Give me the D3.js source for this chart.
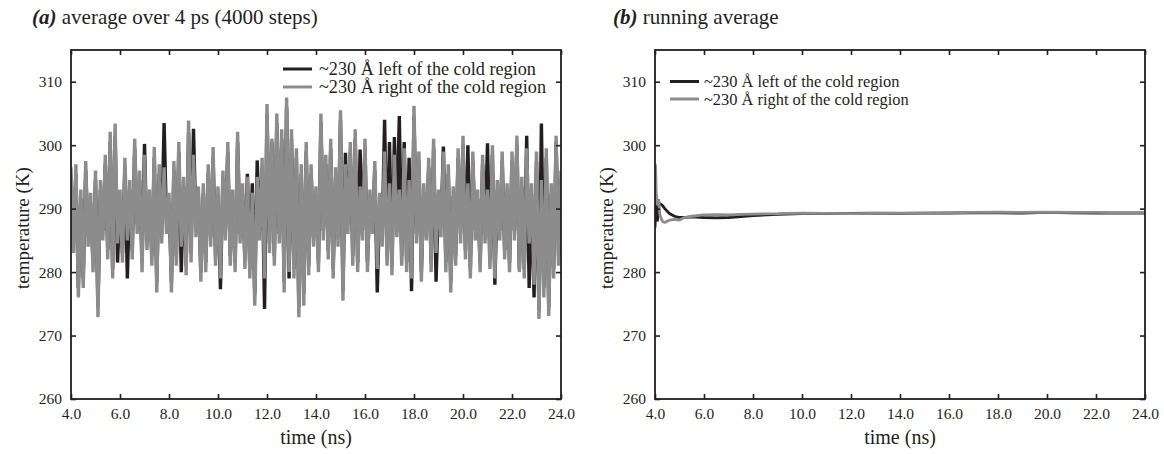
<!DOCTYPE html>
<html>
<head>
<meta charset="utf-8">
<script src="https://cdn.jsdelivr.net/npm/d3@7/dist/d3.min.js"></script>
<style>
    body { margin: 0; background: #fff; }
    svg text { font-family: "Liberation Serif", "Tinos", "Times New Roman", "DejaVu Serif", "Noto Serif", serif; fill: #231f20; }
</style>
</head>
<body>
<svg id="chart" width="1164" height="454"></svg>
<script>
// (a) 4 ps block averages, one sample every 0.1 ns from 4.0 ns
const blockStart = 4.0;
const blockStep = 0.1;
const blockLeft = [
    295, 284.5, 295.5, 277.5, 291.5, 279, 296, 285.5, 291, 281.5, 294.5, 274.5, 293, 286.5, 297, 283.5, 300.5, 280.5, 301.5, 281.5,
    291.5, 283, 296.5, 279, 293, 283.5, 299.5, 287.5, 294.5, 281.5, 300.2, 285, 291.5, 282.5, 298, 278.5, 295.5, 286, 303.5, 287.5,
    291, 278.5, 296, 282.5, 299, 280, 293.5, 281, 302, 283, 302.6, 287, 292, 280, 292.5, 281.5, 295.5, 285.5, 298, 282.5,
    292, 277.3, 294.5, 286.5, 299, 282.5, 291.5, 281.5, 300.5, 286, 292.5, 282, 295.5, 280.5, 294, 276.5, 297.6, 286.5, 296.5, 274.2,
    305, 284.5, 300.5, 282.5, 303.5, 286, 301, 278.5, 306, 279, 301, 280.5, 298, 274.5, 295.5, 276.5, 299, 281, 295.5, 285.5,
    292, 281.5, 303.5, 286.5, 297, 283.5, 299.5, 280.5, 295, 285.5, 304, 277, 298.8, 287.5, 299, 282.5, 301, 281.5, 299.3, 286.5,
    299.5, 281.5, 291.5, 287.5, 296, 276.8, 291, 285.5, 304, 282.5, 300.5, 281, 301.3, 287, 304.6, 282.5, 300.5, 281.5, 298, 277,
    304.5, 286, 297.5, 280, 292.5, 286.5, 296.5, 281.5, 299.5, 278.5, 291.5, 287, 299.8, 281.5, 295.5, 278.5, 292, 282.5, 298, 286,
    300, 283.5, 300, 280.5, 297.5, 286.5, 291.5, 281.5, 297, 286, 300.3, 282, 298.5, 278, 293, 286.5, 297.5, 283.5, 292.5, 281.5,
    297.5, 286.5, 300, 280.5, 293.5, 280.5, 301.5, 277.5, 292.5, 276, 297.5, 274, 303.4, 277.5, 298, 274.5, 292.5, 280.5, 300.5, 282.5,
    294.5
];
const blockRight = [
    296.5, 283, 297, 276, 293, 277.5, 297.5, 284, 292.5, 280, 296, 272.9, 294.5, 285, 298.5, 282, 302.1, 279, 303.4, 284.5,
    293, 281.5, 298, 285, 294.5, 282, 301, 286, 296, 280, 298.5, 283.5, 293, 281, 299.7, 276.8, 297, 284.5, 296.5, 286,
    292.5, 276.8, 297.5, 281, 300.5, 284, 295, 279.5, 303.9, 281.5, 298.5, 285.5, 293.5, 278.5, 294, 280, 297, 284, 299.7, 281,
    293.5, 279, 296, 285, 300.5, 281, 293, 280, 302.1, 284.5, 294, 280.5, 295, 279, 292.5, 274.7, 295, 285, 298, 279,
    306.5, 283, 301, 281, 305, 284.5, 302.5, 276.8, 307.5, 280, 302.5, 279, 299.5, 272.9, 297, 274.7, 300.5, 279.5, 297, 284,
    293.5, 280, 305, 285, 298.5, 282, 301, 279, 296.5, 284, 305.5, 275.5, 297, 286, 300.5, 281, 302.5, 280, 293.5, 285,
    301, 280, 293, 286, 297.5, 280.5, 292.5, 284, 299, 281, 294, 279.5, 298.5, 285.5, 293, 281, 299.5, 280, 294.5, 279,
    306.2, 284.5, 299, 278.5, 294, 285, 298, 280, 301, 283, 293, 285.5, 299, 280, 297, 276.8, 293.5, 281, 299.5, 284.5,
    301.5, 282, 294, 279, 299, 285, 293, 280, 298.5, 284.5, 293, 280.5, 300, 279, 294.5, 285, 299, 282, 294, 280,
    299, 285, 301.5, 280, 295, 279, 299.5, 284.5, 294, 278, 299, 272.6, 294.5, 276, 299.5, 273.1, 294, 279, 301.5, 281,
    296
];

// (b) running average
const runTimes = [4.0, 4.02, 4.05, 4.1, 4.15, 4.2, 4.3, 4.4, 4.5, 4.6, 4.8, 5.0, 5.2, 5.5, 6.0, 6.5, 7.0, 7.5, 8.0,
    9, 10, 11, 12, 13, 14, 15, 16, 17, 18, 19, 20, 21, 22, 23, 24];
const runLeft = [287, 289, 291, 288, 290.5, 290.8, 290.5, 290, 289.6, 289.2, 288.8, 288.6, 288.6, 288.7, 288.6, 288.55, 288.6, 288.75, 288.9,
    289.1, 289.2, 289.2, 289.25, 289.3, 289.25, 289.3, 289.3, 289.35, 289.35, 289.3, 289.4, 289.35, 289.3, 289.3, 289.3];
const runRight = [291, 297, 292.5, 290.5, 291.5, 289, 288, 287.8, 288, 288.2, 288.3, 288.2, 288.6, 288.8, 289.0, 289.05, 289.0, 289.1, 289.15,
    289.2, 289.3, 289.25, 289.2, 289.25, 289.3, 289.3, 289.35, 289.4, 289.45, 289.4, 289.45, 289.4, 289.4, 289.35, 289.35];

const xTicks = [4, 6, 8, 10, 12, 14, 16, 18, 20, 22, 24];
const yTicks = [260, 270, 280, 290, 300, 310];
const seriesNames = ['~230 Å left of the cold region', '~230 Å right of the cold region'];
const seriesColors = ['#231f20', '#8c8c8c'];

const svg = d3.select('#chart');
const dims = { top: 50, bottom: 399 };
const serifFont = '"Liberation Serif", "Tinos", "Times New Roman", "DejaVu Serif", "Noto Serif", serif';

function blockSeries(values) {
    return values.map((v, i) => [blockStart + i * blockStep, v]);
}

function drawPanel(p) {
    const x = d3.scaleLinear().domain([4, 24]).range([p.left, p.right]);
    const y = d3.scaleLinear().domain([260, 315]).range([dims.bottom, dims.top]);
    const g = svg.append('g');

    g.append('defs')
        .append('clipPath')
        .attr('id', p.id + '-clip')
        .append('rect')
        .attr('x', p.left)
        .attr('y', dims.top)
        .attr('width', p.right - p.left)
        .attr('height', dims.bottom - dims.top);

    const line = d3.line()
        .x(d => x(d[0]))
        .y(d => y(d[1]));

    g.append('g')
        .attr('clip-path', `url(#${p.id}-clip)`)
        .selectAll('path.series')
        .data(p.series)
        .join('path')
        .classed('series', true)
        .attr('fill', 'none')
        .attr('stroke', (d, i) => seriesColors[i])
        .attr('stroke-width', p.lineWidth)
        .attr('stroke-linejoin', 'bevel')
        .attr('d', line);

    const fmt = d3.format('.1f');
    const axes = [
        { ax: d3.axisBottom(x).tickValues(xTicks).tickFormat(fmt).tickPadding(9), t: `translate(0,${dims.bottom})` },
        { ax: d3.axisTop(x).tickValues(xTicks).tickFormat(''), t: `translate(0,${dims.top})` },
        { ax: d3.axisLeft(y).tickValues(yTicks).tickFormat(d3.format('d')).tickPadding(9), t: `translate(${p.left},0)` },
        { ax: d3.axisRight(y).tickValues(yTicks).tickFormat(''), t: `translate(${p.right},0)` }
    ];
    axes.forEach(a => {
        const el = g.append('g')
            .attr('transform', a.t)
            .call(a.ax.tickSizeInner(-5).tickSizeOuter(0));
        el.attr('font-family', serifFont);
        el.select('.domain').remove();
        el.selectAll('line').attr('stroke', '#231f20').attr('stroke-width', 1.6);
        el.selectAll('text').attr('font-size', 15.5).attr('fill', '#231f20');
    });

    g.append('rect')
        .attr('x', p.left)
        .attr('y', dims.top)
        .attr('width', p.right - p.left)
        .attr('height', dims.bottom - dims.top)
        .attr('fill', 'none')
        .attr('stroke', '#231f20')
        .attr('stroke-width', 1.8);

    g.append('text')
        .attr('x', (p.left + p.right) / 2)
        .attr('y', 444)
        .attr('text-anchor', 'middle')
        .attr('font-size', 20)
        .text('time (ns)');

    g.append('text')
        .attr('transform', `translate(${p.left - 42},228) rotate(-90)`)
        .attr('text-anchor', 'middle')
        .attr('font-size', 19)
        .text('temperature (K)');

    const title = g.append('text')
        .attr('x', p.titleX)
        .attr('y', 24)
        .attr('font-size', 21);
    title.append('tspan')
        .attr('font-weight', 'bold')
        .attr('font-style', 'italic')
        .text(p.tag);
    title.append('tspan').text(' ' + p.title);

    const legend = g.append('g')
        .selectAll('g')
        .data(seriesNames)
        .join('g')
        .attr('transform', (d, i) => `translate(${p.legendX},${p.legendY + i * p.legendGap})`);
    legend.append('line')
        .attr('x1', 0)
        .attr('x2', 29)
        .attr('stroke', (d, i) => seriesColors[i])
        .attr('stroke-width', 3);
    legend.append('text')
        .attr('x', p.legendText)
        .attr('y', 5.5)
        .attr('font-size', p.legendFont)
        .text(d => d);
}

drawPanel({
    id: 'a', left: 71, right: 561, titleX: 32, tag: '(a)', title: 'average over 4 ps (4000 steps)',
    legendX: 283, legendY: 69, legendGap: 18, legendText: 36, legendFont: 18.2, lineWidth: 3.4,
    series: [blockSeries(blockLeft), blockSeries(blockRight)]
});

drawPanel({
    id: 'b', left: 655, right: 1145, titleX: 613, tag: '(b)', title: 'running average',
    legendX: 670, legendY: 81.5, legendGap: 17.5, legendText: 34, legendFont: 16.4, lineWidth: 2.8,
    series: [runTimes.map((t, i) => [t, runLeft[i]]), runTimes.map((t, i) => [t, runRight[i]])]
});
</script>
</body>
</html>
